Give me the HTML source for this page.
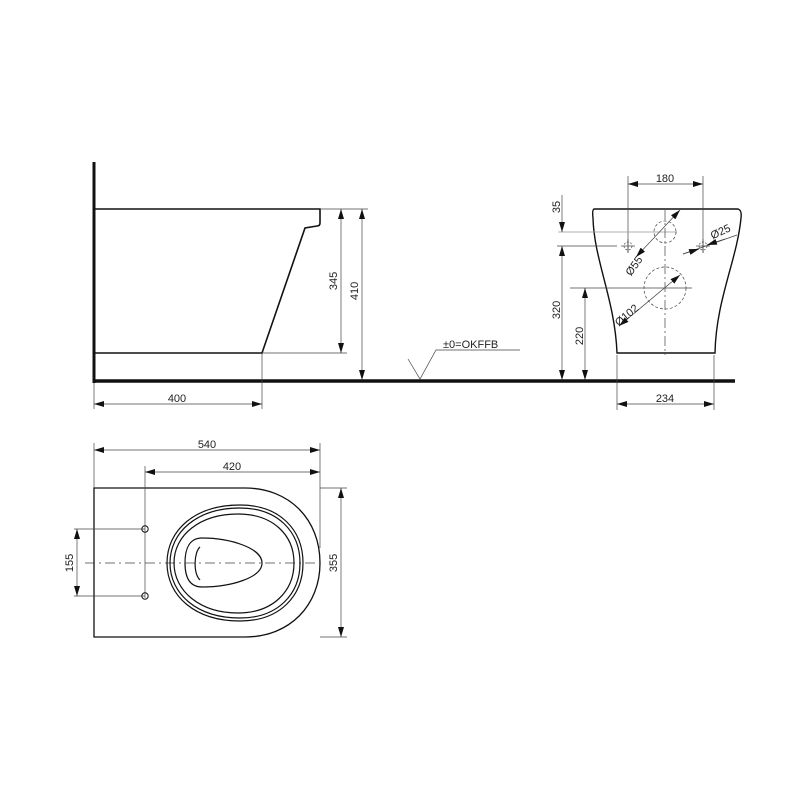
<!DOCTYPE html>
<html><head><style>body{margin:0;background:#fff}svg{display:block}text{font-family:"Liberation Sans",sans-serif;font-size:11px;fill:#222}</style></head><body>
<svg width="800" height="800" viewBox="0 0 800 800" xmlns="http://www.w3.org/2000/svg">
<defs><marker id="a" viewBox="0 0 10 6" refX="10" refY="3" markerWidth="10" markerHeight="6" orient="auto-start-reverse" markerUnits="userSpaceOnUse"><path d="M0,0L10,3L0,6z" fill="#111"/></marker></defs>
<g fill="none" stroke="#111">
<line x1="94" y1="162" x2="94" y2="383" stroke-width="3"/>
<line x1="93" y1="381" x2="735" y2="381" stroke-width="3.5"/>
<path d="M94,209H320V223Q320,226 317,226L305,228L262,353H94" stroke-width="1.6"/>
<g stroke-width="0.7" stroke="#444">
<line x1="320" y1="209" x2="368" y2="209"/><line x1="262" y1="353" x2="347" y2="353"/>
<line x1="262" y1="353" x2="262" y2="409"/><line x1="94" y1="383" x2="94" y2="409"/>
<line x1="341" y1="209" x2="341" y2="353" marker-start="url(#a)" marker-end="url(#a)"/>
<line x1="362" y1="209" x2="362" y2="380" marker-start="url(#a)" marker-end="url(#a)"/>
<line x1="94" y1="404" x2="262" y2="404" marker-start="url(#a)" marker-end="url(#a)"/>
<path d="M408,359L420,379L436,350H520"/>
</g>
<path d="M594,209H738Q742,210 741,218C737,260 716,300 715,353H617C615,300 594,260 593,218Q592,210 594,209Z" stroke-width="1.4"/>
<g stroke-width="0.7" stroke="#444">
<line x1="628" y1="176" x2="628" y2="253"/><line x1="703" y1="176" x2="703" y2="253"/>
<line x1="628" y1="184" x2="703" y2="184" marker-start="url(#a)" marker-end="url(#a)"/>
<line x1="558" y1="232" x2="677" y2="232" stroke="#999"/>
<line x1="557" y1="246" x2="617" y2="246"/>
<line x1="570" y1="288" x2="692" y2="288"/>
<line x1="562" y1="195" x2="562" y2="232" marker-end="url(#a)"/>
<line x1="562" y1="246" x2="562" y2="380" marker-start="url(#a)" marker-end="url(#a)"/>
<line x1="585" y1="288" x2="585" y2="380" marker-start="url(#a)" marker-end="url(#a)"/>
<line x1="617" y1="355" x2="617" y2="410"/><line x1="714" y1="355" x2="714" y2="410"/>
<line x1="617" y1="404" x2="714" y2="404" marker-start="url(#a)" marker-end="url(#a)"/>
<line x1="665" y1="210" x2="665" y2="355" stroke-dasharray="10,3,2,3"/>
<circle cx="665" cy="232" r="11" stroke-dasharray="3,2"/>
<circle cx="665" cy="288" r="21" stroke-dasharray="3,2"/>
<circle cx="628" cy="246" r="4" stroke-dasharray="2,1.5"/><line x1="621" y1="246" x2="635" y2="246"/><line x1="628" y1="239" x2="628" y2="253"/>
<circle cx="703" cy="246" r="4" stroke-dasharray="2,1.5"/><line x1="696" y1="246" x2="710" y2="246"/><line x1="703" y1="239" x2="703" y2="253"/>
<line x1="636" y1="257" x2="680" y2="210" marker-start="url(#a)" marker-end="url(#a)"/>
<line x1="619" y1="326" x2="680" y2="275" marker-start="url(#a)" marker-end="url(#a)"/>
<line x1="683" y1="254" x2="737" y2="235"/>
<line x1="683" y1="254" x2="699" y2="249" marker-end="url(#a)"/>
<line x1="725" y1="239" x2="707" y2="245" marker-end="url(#a)"/>
</g>
<path d="M245,488H94V637H245C290,637 320,605 320,563C320,520 290,488 245,488Z" stroke-width="1.3"/>
<g stroke-width="0.7" stroke="#444">
<line x1="94" y1="443" x2="94" y2="488"/><line x1="320" y1="443" x2="320" y2="548"/>
<line x1="145" y1="466" x2="145" y2="598"/>
<line x1="94" y1="450" x2="320" y2="450" marker-start="url(#a)" marker-end="url(#a)"/>
<line x1="145" y1="472" x2="320" y2="472" marker-start="url(#a)" marker-end="url(#a)"/>
<line x1="74" y1="529" x2="145" y2="529"/><line x1="74" y1="596" x2="145" y2="596"/>
<line x1="77" y1="529" x2="77" y2="596" marker-start="url(#a)" marker-end="url(#a)"/>
<line x1="320" y1="488" x2="347" y2="488"/><line x1="320" y1="637" x2="347" y2="637"/>
<line x1="341" y1="488" x2="341" y2="637" marker-start="url(#a)" marker-end="url(#a)"/>
<line x1="85" y1="563" x2="320" y2="563" stroke-dasharray="10,4,2,4"/>
</g>
<circle cx="145" cy="529" r="3.2" stroke-width="1"/><circle cx="145" cy="596" r="3.2" stroke-width="1"/>
<g stroke-width="1.2">
<path d="M240,505C280,505 303,530 303,563C303,596 280,621 240,621C195,621 167,596 167,563C167,530 195,505 240,505Z"/>
<path d="M240,508C278,508 300,532 300,563C300,594 278,618 240,618C197,618 170,594 170,563C170,532 197,508 240,508Z"/>
<path d="M238,514C273,514 294,535 294,563C294,591 273,613 238,613C200,613 174,591 174,563C174,535 200,514 238,514Z"/>
<path d="M202,538C230,538 262,548 262,563C262,578 230,587 202,587C190,587 185,578 185,563C185,548 190,538 202,538Z"/>
<path d="M200,547C194,552 193,573 200,580"/>
</g>
</g>
<text x="177" y="402" text-anchor="middle">400</text>
<text transform="translate(337,281) rotate(-90)" text-anchor="middle">345</text>
<text transform="translate(358,291) rotate(-90)" text-anchor="middle">410</text>
<text x="443" y="348">±0=OKFFB</text>
<text x="665" y="182" text-anchor="middle">180</text>
<text transform="translate(560,207) rotate(-90)" text-anchor="middle">35</text>
<text transform="translate(560,310) rotate(-90)" text-anchor="middle">320</text>
<text transform="translate(583,336) rotate(-90)" text-anchor="middle">220</text>
<text x="665" y="402" text-anchor="middle">234</text>
<text transform="translate(637,268) rotate(-55)" text-anchor="middle">Ø55</text>
<text transform="translate(629,318) rotate(-40)" text-anchor="middle">Ø102</text>
<text transform="translate(722,235) rotate(-25)" text-anchor="middle">Ø25</text>
<text x="207" y="448" text-anchor="middle">540</text>
<text x="232" y="470" text-anchor="middle">420</text>
<text transform="translate(73,563) rotate(-90)" text-anchor="middle">155</text>
<text transform="translate(337,563) rotate(-90)" text-anchor="middle">355</text>
</svg>
</body></html>
